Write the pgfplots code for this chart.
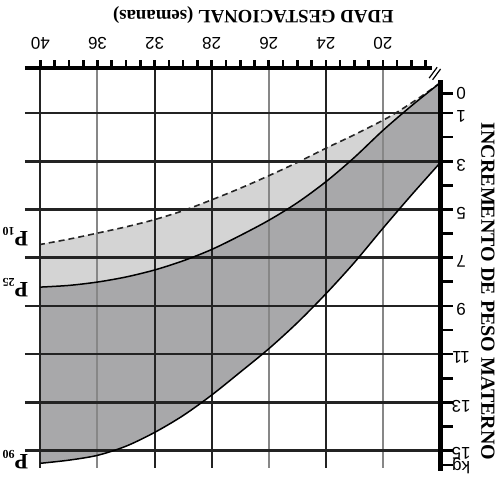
\documentclass[border=0pt]{standalone}
\usepackage{fontspec}
\setmainfont{Liberation Serif}
\newfontfamily\arial{Liberation Sans}
\usepackage{pgfplots}
\pgfplotsset{compat=1.18}
\usepackage{pgfplotstable}
\usepgfplotslibrary{fillbetween}

\definecolor{lightfill}{RGB}{212,212,212}
\definecolor{darkfill}{RGB}{168,168,170}
\definecolor{gridgray}{RGB}{135,135,135}
\definecolor{griddark}{RGB}{35,35,35}

% t: position along the (reversed) week axis, 0 = right edge, 7 = "40"
\pgfplotstableread{
t y
0 -0.25
0.25 0.18
0.5 0.58
0.75 0.96
1.0 1.3
1.5 1.9
2.0 2.46
2.5 3.05
3.0 3.6
3.5 4.12
4.0 4.6
4.5 5.05
5.0 5.42
5.5 5.72
6.0 5.98
6.5 6.23
7.0 6.45
}\tabA
\pgfplotstableread{
t y
0 -0.25
0.5 0.7
1.0 1.72
1.5 2.84
2.0 3.85
2.5 4.72
3.0 5.45
3.5 6.08
4.0 6.66
4.5 7.13
5.0 7.51
5.5 7.8
6.0 8.01
6.5 8.15
7.0 8.22
}\tabB
\pgfplotstableread{
t y
0 3.07
0.5 4.4
1.0 5.78
1.5 7.2
2.0 8.5
2.5 9.7
3.0 10.78
3.5 11.75
4.0 12.7
4.5 13.55
5.0 14.25
5.5 14.82
6.0 15.2
6.5 15.4
7.0 15.53
}\tabC

\begin{document}
\begin{tikzpicture}
\begin{axis}[
  scale only axis, width=207.5pt, height=201.5pt,
  xmin=0, xmax=7.27, ymin=-0.87, ymax=15.85,
  x dir=reverse, y dir=reverse,
  hide axis, clip=false]
\addplot[draw=none, smooth, name path=p10] table {\tabA};
\addplot[draw=none, smooth, name path=p25] table {\tabB};
\addplot[draw=none, smooth, name path=p90] table {\tabC};
\addplot[lightfill] fill between[of=p10 and p25];
\addplot[darkfill] fill between[of=p25 and p90];

% vertical grid lines
\draw[gridgray, line width=1pt] (axis cs:1,-0.87) -- (axis cs:1,15.73);
\draw[griddark, line width=1pt] (axis cs:2,-0.87) -- (axis cs:2,15.73);
\draw[gridgray, line width=1pt] (axis cs:3,-0.87) -- (axis cs:3,15.73);
\draw[griddark, line width=1pt] (axis cs:4,-0.87) -- (axis cs:4,15.73);
\draw[griddark, line width=1pt] (axis cs:5,-0.87) -- (axis cs:5,15.73);
\draw[gridgray, line width=1pt] (axis cs:6,-0.87) -- (axis cs:6,15.73);
\draw[griddark, line width=1pt] (axis cs:7,-0.87) -- (axis cs:7,15.73);
% horizontal grid lines
\pgfplotsinvokeforeach{1,3,5,7,9,11,13,15}{
  \draw[griddark, line width=1.35pt] (axis cs:7.27,#1) -- (axis cs:0,#1);
}

\addplot[black!85, line width=0.8pt, dash pattern=on 3pt off 2pt, smooth] table {\tabA};
\addplot[black, line width=0.75pt, smooth] table {\tabB};
\addplot[black, line width=0.75pt, smooth] table {\tabC};

% top axis with ticks
\draw[black, line width=2pt] (axis cs:7.27,-0.87) -- (axis cs:0.14,-0.87);
\pgfplotsinvokeforeach{1,...,28}{
  \draw[black, line width=1.3pt] (axis cs:{#1*0.25},-0.87) -- (axis cs:{#1*0.25},-1.22);
}
\draw[black, line width=0.6pt] (axis cs:0.19,-0.45) -- (axis cs:0.05,-0.9);
\draw[black, line width=0.6pt] (axis cs:0.13,-0.38) -- (axis cs:-0.01,-0.83);

% right axis with ticks
\draw[black, line width=2.5pt] (axis cs:0,-0.37) -- (axis cs:0,15.85);
\pgfplotsinvokeforeach{0.2,1,2,3,4,5,6,7,8,9,10,11,12,13,14,15,15.6}{
  \draw[black, line width=1.3pt] (axis cs:0,#1) -- (axis cs:-0.23,#1);
}

% week labels
\begin{scope}[every node/.style={rotate=180, font=\arial\fontsize{8.5}{10}\selectfont}]
\node at (axis cs:1,-1.9) {20};
\node at (axis cs:2,-1.9) {24};
\node at (axis cs:3,-1.9) {26};
\node at (axis cs:4,-1.9) {28};
\node at (axis cs:5,-1.9) {32};
\node at (axis cs:6,-1.9) {36};
\node at (axis cs:7,-1.9) {40};
\node at (axis cs:-0.37,0.2) {0};
\node at (axis cs:-0.37,1.15) {1};
\node at (axis cs:-0.37,3.15) {3};
\node at (axis cs:-0.37,5.15) {5};
\node at (axis cs:-0.37,7.15) {7};
\node at (axis cs:-0.37,9.15) {9};
\node at (axis cs:-0.37,11.15) {11};
\node at (axis cs:-0.37,13.15) {13};
\node at (axis cs:-0.37,15.1) {15};
\node at (axis cs:-0.37,15.65) {kg};
\end{scope}

\node[rotate=180, font=\bfseries\fontsize{9.4}{11}\selectfont] at (axis cs:3.27,-3.07) {EDAD GESTACIONAL (semanas)};
\node[rotate=-90, font=\bfseries\fontsize{10}{12}\selectfont] at (axis cs:-0.84,8.4) {INCREMENTO DE PESO MATERNO};

\begin{scope}[every node/.style={rotate=180, font=\bfseries\fontsize{11}{12}\selectfont}]
\node at (axis cs:7.44,6.14) {P\raisebox{-0.4ex}{\fontsize{6}{7}\selectfont 10}};
\node at (axis cs:7.44,8.26) {P\raisebox{-0.4ex}{\fontsize{6}{7}\selectfont 25}};
\node at (axis cs:7.44,15.39) {P\raisebox{-0.4ex}{\fontsize{6}{7}\selectfont 90}};
\end{scope}

\coordinate (TL) at (axis cs:7.27,-0.87);
\coordinate (BR) at (axis cs:0,15.85);
\end{axis}
\pgfresetboundingbox
\useasboundingbox ([shift={(-12.5pt,34pt)}]TL) rectangle ([shift={(27.5pt,-5pt)}]BR);
\end{tikzpicture}
\end{document}
